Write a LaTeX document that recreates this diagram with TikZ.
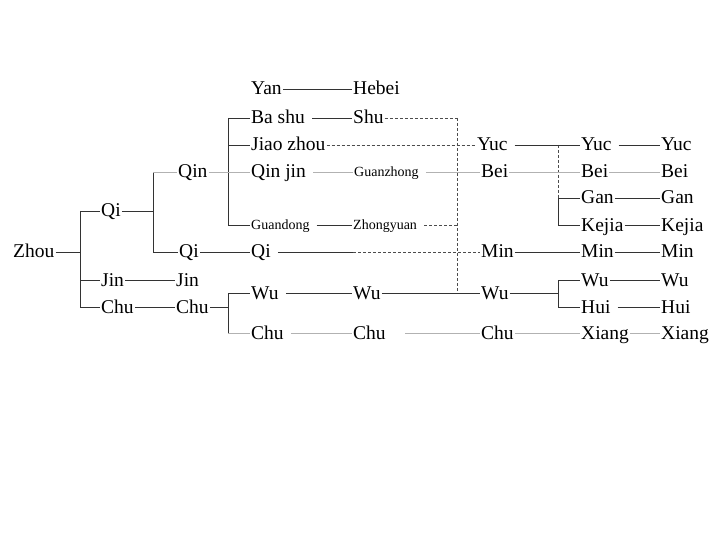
\documentclass[tikz,border=0pt]{standalone}
\usepackage{fontspec}
\setmainfont{Liberation Serif}
\begin{document}
\begin{tikzpicture}[x=1pt,y=-1pt,%
    word/.style={anchor=west,inner sep=1pt,text height=13.5pt,text depth=1.5pt,font=\fontsize{19.5}{19.5}\selectfont},
    small/.style={word,text height=10pt,text depth=1pt,font=\fontsize{14}{14}\selectfont},
    link/.style={line width=0.8pt,black!80},
    faint/.style={line width=0.7pt,black!30},
    hint/.style={line width=0.6pt,black!70,dash pattern=on 3pt off 2pt},
    loose/.style={shorten <=6pt}
  ]
		\useasboundingbox (0,0) rectangle (720,540);

		% last column
		\node at (660,145) [word] (yue7) {Yuc};
		\node at (660,172) [word] (bei7) {Bei};
		\node at (660,198) [word] (gan7) {Gan};
		\node at (660,225) [word] (kejia7) {Kejia};
		\node at (660,252) [word] (min7) {Min};
		\node at (660,280) [word] (wu7) {Wu};
		\node at (660,307) [word] (hui7) {Hui};
		\node at (660,333) [word] (xiang7) {Xiang};

		\node at (580,145) [word] (yue6) {Yuc}
			edge[link,loose] (yue7);
		\node at (580,172) [word] (bei6) {Bei}
			edge[faint] (bei7);
		\node at (580,198) [word] (gan6) {Gan}
			edge[link] (gan7);
		\node at (580,225) [word] (kejia6) {Kejia}
			edge[link] (kejia7);
		\node at (580,252) [word] (min6) {Min}
			edge[link] (min7);
		\node at (580,280) [word] (wu6) {Wu}
			edge[link] (wu7);
		\node at (580,307) [word] (hui6) {Hui}
			edge[link,loose] (hui7);
		\node at (580,333) [word] (xiang6) {Xiang}
			edge[faint] (xiang7);

		\coordinate (g1) at (558,145);
		\coordinate (g2) at (558,198);
		\coordinate (g3) at (558,225);
		\coordinate (w1) at (558,280);
		\coordinate (w2) at (558,293);
		\coordinate (w3) at (558,307);
		\draw[hint] (g1) -- (g2);
		\draw[link] (g2) -- (g3);
		\draw[link] (w1) -- (w3);
		\path (g2) edge[link] (gan6);
		\path (g3) edge[link] (kejia6);
		\path (w1) edge[link] (wu6);
		\path (w3) edge[link] (hui6);

		\node at (476,145) [word] (yue5) {Yuc}
			edge[link,loose] (yue6);
		\node at (480,172) [word] (bei5) {Bei}
			edge[faint] (bei6);
		\node at (480,252) [word] (min5) {Min}
			edge[link] (min6);
		\node at (480,293) [word] (wu5) {Wu}
			edge[link] (w2);
		\node at (480,333) [word] (chu5) {Chu}
			edge[faint] (xiang6);

		% dashed links
		\coordinate (d1) at (457,118);
		\coordinate (d2) at (457,225);
		\coordinate (d3) at (457,293);
		\coordinate (q1) at (353,252);
		\coordinate (c1) at (405,333);
		\draw[hint] (d1) -- (d3);
		\path (q1) edge[hint] (min5);
		\path (c1) edge[faint] (chu5);

		\node at (352,89) [word] (hebei4) {Hebei};
		\node at (352,118) [word] (shu4) {Shu}
			edge[hint] (d1);
		\node at (353,172) [small] (guanzhong4) {Guanzhong}
			edge[faint,loose] (bei5);
		\node at (352,225) [small] (zhongyuan4) {Zhongyuan}
			edge[hint,loose] (d2);
		\node at (352,293) [word] (wu4) {Wu}
			edge[link] (wu5);
		\node at (352,333) [word] (chu4) {Chu};

		\node at (250,89) [word] (yan3) {Yan}
			edge[link] (hebei4);
		\node at (250,118) [word] (bashu3) {Ba shu}
			edge[link,loose] (shu4);
		\node at (250,145) [word] (jiao3) {Jiao zhou}
			edge[hint] (yue5);
		\node at (250,172) [word] (qinjin3) {Qin jin}
			edge[faint,loose] (guanzhong4);
		\node at (250,225) [small] (guandong3) {Guandong}
			edge[link,loose] (zhongyuan4);
		\node at (250,252) [word] (qi3) {Qi}
			edge[link,loose] (q1);
		\node at (250,293) [word] (wu3) {Wu}
			edge[link,loose] (wu4);
		\node at (250,333) [word] (chu3) {Chu}
			edge[faint,loose] (chu4);

		\coordinate (k1) at (228,118);
		\coordinate (k2) at (228,145);
		\coordinate (k3) at (228,172);
		\coordinate (k4) at (228,225);
		\coordinate (m1) at (228,293);
		\coordinate (m2) at (228,307);
		\coordinate (m3) at (228,333);
		\draw[link] (k1) -- (k4);
		\draw[link] (m1) -- (m3);
		\path (k1) edge[link] (bashu3);
		\path (k2) edge[link] (jiao3);
		\path (k3) edge[faint] (qinjin3);
		\path (k4) edge[link] (guandong3);
		\path (m1) edge[link] (wu3);
		\path (m3) edge[faint] (chu3);

		\node at (177,172) [word] (qin2) {Qin}
			edge[faint] (k3);
		\node at (178,252) [word] (qi2) {Qi}
			edge[link] (qi3);
		\node at (175,280) [word] (jin2) {Jin};
		\node at (175,307) [word] (chu2) {Chu}
			edge[link] (m2);

		\coordinate (n1) at (153,172);
		\coordinate (n2) at (153,211);
		\coordinate (n3) at (153,252);
		\draw[link] (n1) -- (n3);
		\path (n1) edge[faint] (qin2);
		\path (n3) edge[link] (qi2);

		\node at (100,211) [word] (qi1) {Qi}
			edge[link] (n2);
		\node at (100,280) [word] (jin1) {Jin}
			edge[link] (jin2);
		\node at (100,307) [word] (chu1) {Chu}
			edge[link] (chu2);

		\coordinate (z1) at (80,211);
		\coordinate (z2) at (80,252);
		\coordinate (z3) at (80,280);
		\coordinate (z4) at (80,307);
		\draw[link] (z1) -- (z4);
		\path (z1) edge[link] (qi1);
		\path (z3) edge[link] (jin1);
		\path (z4) edge[link] (chu1);

		\node at (12,252) [word] (zhou0) {Zhou}
			edge[link] (z2);
	\end{tikzpicture}
\end{document}
